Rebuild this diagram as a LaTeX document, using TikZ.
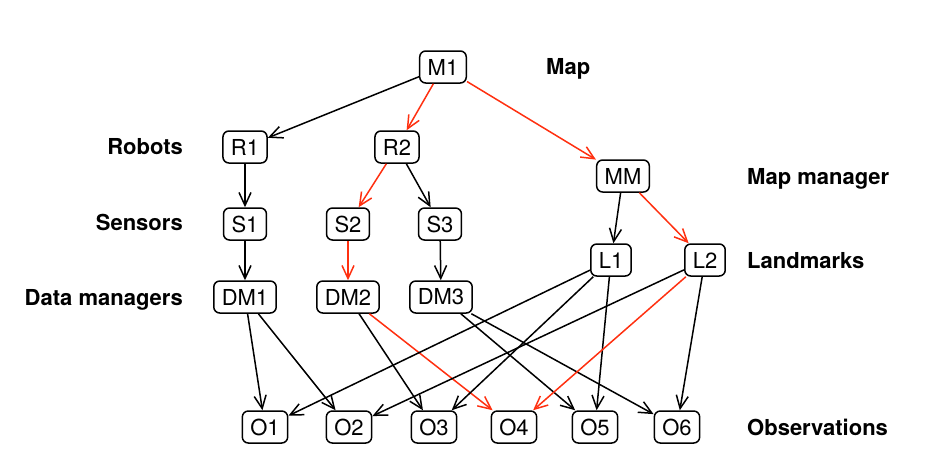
\documentclass[tikz,border=0pt]{standalone}
\usepackage{fontspec}
\setmainfont{TeX Gyre Heros}
\usepackage{tikz}
\usetikzlibrary{shapes.geometric, arrows.meta}
\definecolor{pathred}{RGB}{255,48,16}

\begin{document}
\begin{tikzpicture}[x=1pt, y=-1pt,
		conn/.style={line width=1.5pt, -{Straight Barb[length=13pt,width=12pt,line width=1.5pt]}},
		box/.style={draw, line width=1.5pt, rounded corners=6pt, minimum height=32pt, inner xsep=8pt, font=\fontsize{22}{26}\selectfont},
		lbl/.style={font=\fontsize{22}{26}\selectfont\bfseries, inner sep=0pt}]
		\useasboundingbox (0,0) rectangle (939,456);
		\node[box] (M1) at (443,67) {M1};
		\node[box] (R1) at (245,147) {R1};
		\node[box] (R2) at (397,147) {R2};
		\node[box] (MM) at (623,176) {MM};
		\node[box] (S1) at (245,224) {S1};
		\node[box] (S2) at (348,224) {S2};
		\node[box] (S3) at (440,224) {S3};
		\node[box] (L1) at (611,260) {L1};
		\node[box] (L2) at (705,260) {L2};
		\node[box] (DM1) at (245,297) {DM1};
		\node[box] (DM2) at (348,297) {DM2};
		\node[box] (DM3) at (441,297) {DM3};
		\node[box] (O1) at (265,427) {O1};
		\node[box] (O2) at (349,427) {O2};
		\node[box] (O3) at (434,427) {O3};
		\node[box] (O4) at (514,427) {O4};
		\node[box] (O5) at (595,427) {O5};
		\node[box] (O6) at (677,427) {O6};
		\node[lbl, anchor=base west] (map) at (546,74) {Map};
		\node[lbl, anchor=base east] (robots) at (183,154) {Robots};
		\node[lbl, anchor=base west] (mapman) at (747,184) {Map manager};
		\node[lbl, anchor=base east] (sensors) at (183,230) {Sensors};
		\node[lbl, anchor=base west] (landmarks) at (747,268) {Landmarks};
		\node[lbl, anchor=base east] (datamen) at (183,305) {Data managers};
		\node[lbl, anchor=base west] (obs) at (747,435) {Observations};
		\draw[conn] (M1)--(R1);
		\draw[conn, pathred] (M1)--(R2);
		\draw[conn, pathred] (M1)--(MM);
		\draw[conn] (R1)--(S1);
		\draw[conn, pathred] (R2)--(S2);
		\draw[conn] (R2)--(S3);
		\draw[conn] (MM)--(L1);
		\draw[conn, pathred] (MM)--(L2);
		\draw[conn] (S1)--(DM1);
		\draw[conn, pathred] (S2)--(DM2);
		\draw[conn] (S3)--(DM3);
		\draw[conn] (DM1)--(O1);
		\draw[conn] (DM1)--(O2);
		\draw[conn] (DM2)--(O3);
		\draw[conn, pathred] (DM2)--(O4);
		\draw[conn] (DM3)--(O5);
		\draw[conn] (DM3)--(O6);
		\draw[conn] (L1)--(O1);
		\draw[conn] (L1)--(O3);
		\draw[conn] (L1)--(O5);
		\draw[conn] (L2)--(O2);
		\draw[conn, pathred] (L2)--(O4);
		\draw[conn] (L2)--(O6);
	\end{tikzpicture}
\end{document}
